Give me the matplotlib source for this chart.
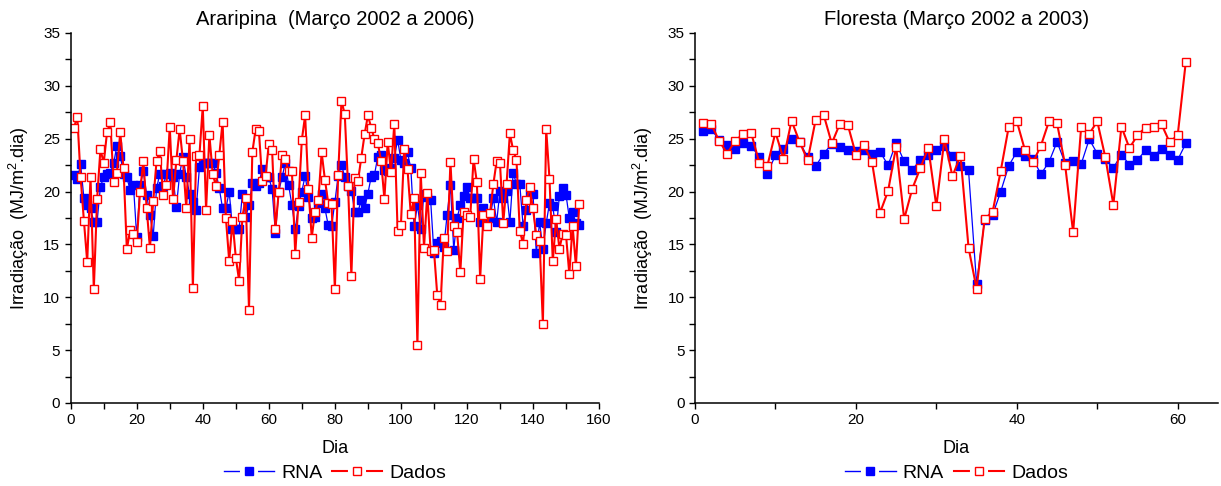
"""
Irradiacao diaria: RNA x dados medidos (Araripina e Floresta)
"""
import matplotlib
matplotlib.use('Agg')
import matplotlib.pyplot as plt
from matplotlib.lines import Line2D
from matplotlib.legend_handler import HandlerTuple
from matplotlib.ticker import MultipleLocator
import numpy as np

plt.rcParams['font.family'] = ['Liberation Sans', 'DejaVu Sans']
plt.rcParams['mathtext.fontset'] = 'custom'
plt.rcParams['mathtext.rm'] = 'Liberation Sans'
plt.rcParams['mathtext.it'] = 'Liberation Sans'

# Araripina (Marco 2002 a 2006), dias 1..154
arar_rna = [21.57, 21.2, 22.6, 19.36, 18.73, 18.4, 17.15, 17.15, 20.47, 21.35,
            21.7, 21.8, 22.67, 24.35, 23.4, 21.7, 21.35, 20.15, 20.6, 15.7,
            20.6, 21.9, 19.7, 17.8, 15.8, 20.3, 21.7, 20.5, 21.7, 21.8,
            21.35, 18.5, 21.7, 23.3, 21.35, 19.8, 19.05, 18.3, 22.35,
            22.7, 22.7, 22.7, 22.7, 21.8, 20.3, 18.4, 18.4, 20.0, 16.5,
            16.45, 16.45, 19.8, 17.6, 18.7, 20.8, 20.5, 20.8, 22.1, 21.35,
            21.35, 20.2, 16.05, 20.0, 21.35, 22.7, 20.6, 18.7, 16.45, 18.6,
            20.0, 21.5, 19.5, 17.5, 17.6, 18.9,
            19.8, 18.4, 16.8, 16.7, 19.0, 21.5, 22.5, 21.4, 20.5,
            20.1, 18.1, 18.1, 19.2, 18.4, 19.8, 21.4, 21.6, 23.3, 23.45,
            22.05, 21.9, 22.2, 23.15, 24.9, 23.0, 22.7, 23.7, 22.2, 16.7,
            18.7, 16.5, 19.8, 19.5, 19.2, 14.2, 15.1, 15.3, 14.8, 17.8,
            20.6, 14.5, 17.5, 18.7, 19.6, 20.4, 19.4, 19.4, 19.4, 17.15,
            18.4, 17.5, 17.5, 19.4, 17.1, 20.1, 19.4, 20.1, 17.1, 21.8,
            20.7, 20.7, 16.75, 18.3, 19.8, 19.8, 14.2, 17.1, 14.6, 17.0,
            18.9, 18.6, 16.2, 19.6, 20.3, 19.7, 17.5, 18.1, 17.0, 16.8]

arar_dados = [26.05, 27.1, 21.35, 17.25, 13.35, 21.4, 10.75, 19.3, 24.0, 22.7,
              25.6, 26.55, 20.9, 21.8, 25.6, 22.2, 14.55, 16.35, 16.0, 15.2,
              19.95, 22.9, 18.45, 14.65, 19.1, 22.9, 23.8, 19.65, 20.65, 26.15,
              19.25, 23.0, 25.9, 22.9, 18.45, 24.95, 10.9, 23.4, 23.5, 28.1,
              18.26, 25.35, 21.7, 20.5, 23.45, 26.6, 17.5, 13.45, 17.25, 13.75,
              11.57, 17.6, 19.4, 8.8, 23.7, 25.9, 25.7, 21.0, 21.45, 24.5,
              23.9, 16.45, 20.0, 23.45, 23.1, 21.9, 21.9, 14.1, 19.05, 24.9,
              27.2, 20.2, 15.65, 18.1, 19.2, 23.7, 21.1, 18.9, 18.8, 10.75,
              21.6, 28.6, 27.3, 20.5, 12.05, 21.3, 21.0, 23.2, 25.4, 27.2,
              26.05, 24.95, 24.6, 22.9, 19.3, 24.7, 21.85, 26.4, 16.3, 16.8,
              24.0, 22.1, 17.85, 19.35, 5.45, 21.8, 14.7, 19.85, 14.35, 14.5,
              10.25, 9.25, 15.6, 14.35, 22.8, 16.7, 16.2, 12.4, 18.1, 17.8,
              17.6, 23.1, 20.9, 11.76, 17.8, 16.75, 18.0, 20.7, 22.9, 22.7,
              17.06, 20.7, 25.5, 23.9, 23.0, 16.3, 15.05, 19.2, 20.4, 18.4,
              15.85, 15.3, 7.47, 25.9, 21.2, 13.4, 17.4, 14.6, 16.0, 15.9,
              12.2, 16.75, 12.95, 18.8]

# Floresta (Marco 2002 a 2003), dias 1..61
flor_rna = [25.7, 25.9, 24.9, 24.4, 24.0, 24.6, 24.3, 23.25, 21.7, 23.45,
            24.0, 24.95, 24.7, 23.25, 22.4, 23.6, 24.5, 24.25, 23.9, 23.8,
            23.9, 23.55, 23.75, 22.5, 24.6, 22.85, 22.05, 23.0, 23.45, 23.9,
            24.3, 23.4, 22.4, 22.0, 11.3, 17.3, 17.8, 20.0, 22.45, 23.75,
            23.4, 23.1, 21.65, 22.8, 24.7, 22.7, 22.9, 22.6, 24.95, 23.6,
            23.05, 22.25, 23.5, 22.55, 23.0, 23.9, 23.35, 24.05, 23.45, 23.0,
            24.55]

flor_dados = [26.5, 26.4, 24.8, 23.6, 24.8, 25.45, 25.5, 22.7, 22.45, 25.6,
              23.1, 26.7, 24.7, 22.95, 26.8, 27.25, 24.55, 26.4, 26.3, 23.5,
              24.4, 22.8, 18.0, 20.05, 24.25, 17.4, 20.25, 22.2, 24.15, 18.6,
              24.95, 21.45, 23.4, 14.7, 10.8, 17.4, 18.1, 21.95, 26.15, 26.65,
              23.95, 22.75, 24.35, 26.65, 26.45, 22.55, 16.15, 26.15, 25.45, 26.65,
              23.25, 18.75, 26.15, 24.1, 25.35, 26.05, 26.15, 26.35, 24.65, 25.35,
              32.25]

AZUL = '#0000ff'
VERMELHO = '#ff0000'


def legend_handle(color, face, lw):
	# line broken around the marker, like the original legend
	linha = Line2D([], [], color=color, linewidth=lw)
	fundo = Line2D([], [], linestyle='none', marker='s', markersize=11,
	               markerfacecolor='white', markeredgecolor='white',
	               markeredgewidth=1.5)
	marca = Line2D([], [], linestyle='none', marker='s', markersize=5.5,
	               markerfacecolor=face, markeredgecolor=color,
	               markeredgewidth=1.0)
	return (linha, fundo, marca)


def draw(ax, rna, dados, title, xmax, xlabel_step):
	dias_rna = np.arange(1, len(rna) + 1)
	dias_dados = np.arange(1, len(dados) + 1)

	ax.plot(dias_rna, rna, color=AZUL, linewidth=0.9, marker='s',
	        markersize=5.2, markerfacecolor=AZUL, markeredgecolor=AZUL)
	ax.plot(dias_dados, dados, color=VERMELHO, linewidth=1.5, marker='s',
	        markersize=5.5, markerfacecolor='white', markeredgecolor=VERMELHO,
	        markeredgewidth=1.0)

	ax.set_xlim(0, xmax)
	ax.set_ylim(0, 35)
	ax.xaxis.set_major_locator(MultipleLocator(xlabel_step))
	ax.xaxis.set_minor_locator(MultipleLocator(10))
	ax.yaxis.set_major_locator(MultipleLocator(5))
	ax.yaxis.set_minor_locator(MultipleLocator(2.5))
	ax.tick_params(which='both', direction='out', length=4, width=1,
	               labelsize=11)
	ax.spines['top'].set_visible(False)
	ax.spines['right'].set_visible(False)
	ax.spines['left'].set_linewidth(1.1)
	ax.spines['bottom'].set_linewidth(1.1)

	ax.set_title(title, fontsize=14.5, pad=6)
	ax.set_xlabel('Dia', fontsize=13, labelpad=9)
	ax.set_ylabel(r'Irradiação  (MJ/m$^{2}$.dia)', fontsize=13, labelpad=9)

	handles = [legend_handle(AZUL, AZUL, 1.0),
	           legend_handle(VERMELHO, 'white', 1.5)]
	ax.legend(handles, ['RNA', 'Dados'], loc='center',
	          bbox_to_anchor=(0.5, -0.19), ncol=2, frameon=False,
	          fontsize=14, handlelength=2.6, handletextpad=0.35,
	          columnspacing=0.5, borderaxespad=0,
	          handler_map={tuple: HandlerTuple(ndivide=1, pad=0)})


def main():
	fig = plt.figure(figsize=(12.21, 4.86), dpi=100)
	ax1 = fig.add_axes([0.0579, 0.1708, 0.4327, 0.7613])
	ax2 = fig.add_axes([0.5692, 0.1708, 0.4283, 0.7613])

	draw(ax1, arar_rna, arar_dados, 'Araripina  (Março 2002 a 2006)', 160, 20)
	draw(ax2, flor_rna, flor_dados, 'Floresta (Março 2002 a 2003)', 65, 20)

	fig.savefig('out.png', dpi=100)


if __name__ == '__main__':
	main()
